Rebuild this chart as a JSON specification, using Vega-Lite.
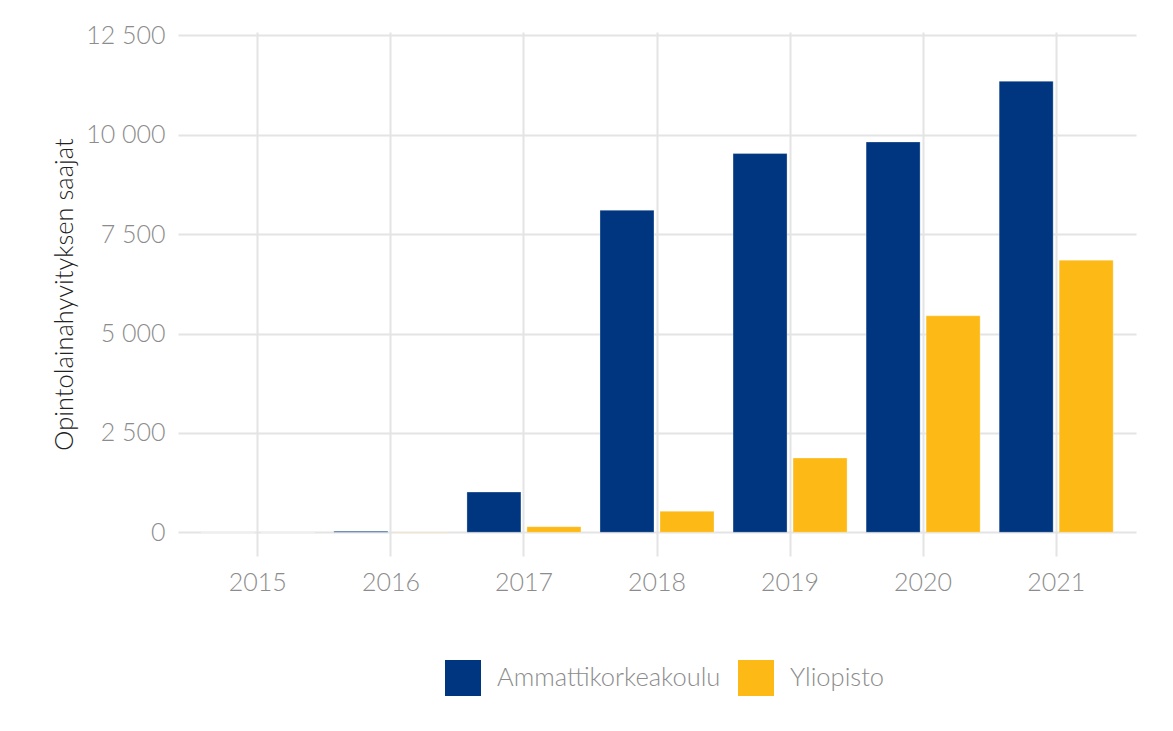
{
  "$schema": "https://vega.github.io/schema/vega-lite/v6.json",
  "width": 958,
  "height": 524,
  "autosize": {"type": "none"},
  "padding": {"left": 178, "top": 32, "right": 37, "bottom": 175},
  "background": "white",
  "config": {
    "font": "Lato",
    "view": {"stroke": null},
    "axis": {"labelFont": "Lato", "titleFont": "Lato", "labelFontWeight": 300, "titleFontWeight": 300}
  },
  "data": {
    "values": [
      {"vuosi": "2015", "koulutus": "Ammattikorkeakoulu", "saajat": 0},
      {"vuosi": "2015", "koulutus": "Yliopisto", "saajat": 0},
      {"vuosi": "2016", "koulutus": "Ammattikorkeakoulu", "saajat": 25},
      {"vuosi": "2016", "koulutus": "Yliopisto", "saajat": 10},
      {"vuosi": "2017", "koulutus": "Ammattikorkeakoulu", "saajat": 1013},
      {"vuosi": "2017", "koulutus": "Yliopisto", "saajat": 141},
      {"vuosi": "2018", "koulutus": "Ammattikorkeakoulu", "saajat": 8101},
      {"vuosi": "2018", "koulutus": "Yliopisto", "saajat": 528},
      {"vuosi": "2019", "koulutus": "Ammattikorkeakoulu", "saajat": 9526},
      {"vuosi": "2019", "koulutus": "Yliopisto", "saajat": 1868},
      {"vuosi": "2020", "koulutus": "Ammattikorkeakoulu", "saajat": 9818},
      {"vuosi": "2020", "koulutus": "Yliopisto", "saajat": 5444},
      {"vuosi": "2021", "koulutus": "Ammattikorkeakoulu", "saajat": 11344},
      {"vuosi": "2021", "koulutus": "Yliopisto", "saajat": 6844}
    ]
  },
  "mark": {"type": "bar", "stroke": "white", "strokeWidth": 0.6, "strokeOpacity": 0.5},
  "encoding": {
    "x": {
      "field": "vuosi",
      "type": "nominal",
      "scale": {"paddingInner": 0.143, "paddingOuter": 0.1715},
      "axis": {
        "title": null,
        "labelAngle": 0,
        "ticks": false,
        "domain": false,
        "grid": true,
        "gridColor": "#e4e4e4",
        "gridWidth": 2,
        "labelFontSize": 25,
        "labelColor": "#8c8c8c",
        "labelPadding": 14
      }
    },
    "xOffset": {
      "field": "koulutus",
      "scale": {"paddingInner": 0.1, "paddingOuter": 0}
    },
    "y": {
      "field": "saajat",
      "type": "quantitative",
      "scale": {"domain": [-596, 12583], "nice": false, "zero": false},
      "axis": {
        "title": "Opintolainahyvityksen saajat",
        "values": [0, 2500, 5000, 7500, 10000, 12500],
        "labelExpr": "replace(format(datum.value, ','), ',', ' ')",
        "ticks": false,
        "domain": false,
        "gridColor": "#e4e4e4",
        "gridWidth": 2,
        "labelFontSize": 25,
        "labelColor": "#8c8c8c",
        "labelPadding": 13,
        "titleFontSize": 25.5,
        "titleColor": "#222222",
        "titlePadding": 8
      }
    },
    "y2": {"datum": 0},
    "color": {
      "field": "koulutus",
      "type": "nominal",
      "scale": {"domain": ["Ammattikorkeakoulu", "Yliopisto"], "range": ["#00367f", "#fdb916"]},
      "legend": {
        "title": null,
        "orient": "none",
        "legendX": 267,
        "legendY": 628,
        "direction": "horizontal",
        "symbolType": "square",
        "symbolSize": 1296,
        "symbolStrokeWidth": 0,
        "symbolOpacity": 1,
        "labelFontSize": 25.5,
        "labelFontWeight": 300,
        "labelFont": "Lato",
        "labelColor": "#8c8c8c",
        "labelLimit": 500,
        "labelOffset": 16,
        "columnPadding": 17,
        "padding": 0
      }
    }
  }
}
